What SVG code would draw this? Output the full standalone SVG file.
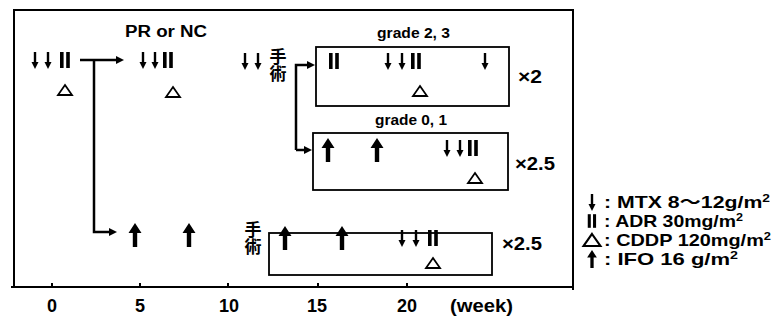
<svg xmlns="http://www.w3.org/2000/svg" xmlns:xlink="http://www.w3.org/1999/xlink" width="776" height="320" viewBox="0 0 776 320">
<style>
.t{font-family:"Liberation Sans","Noto Sans CJK JP",Arial,sans-serif;font-weight:bold;fill:#000}
.j{font-family:"Noto Sans CJK JP","Noto Sans CJK SC",sans-serif;font-weight:bold;fill:#000;font-size:17px;writing-mode:vertical-rl}
.box{fill:none;stroke:#000;stroke-width:1.8}
.ln{fill:none;stroke:#000;stroke-width:2.5}
.ax{fill:none;stroke:#000;stroke-width:2}
</style>
<defs>
<marker id="ah" viewBox="0 0 10 10" refX="5" refY="5" markerWidth="8" markerHeight="8" markerUnits="userSpaceOnUse" orient="auto"><path d="M0,0 L10,5 L0,10 Z" fill="#000"/></marker>
<g id="mtx"><line x1="0" y1="-8" x2="0" y2="3" stroke="#000" stroke-width="2.4"/><path d="M-3.5,2 L3.5,2 L0,9 Z" fill="#000"/></g>
<g id="adr" fill="#000"><rect x="-5" y="-8" width="3.6" height="16"/><rect x="1.2" y="-8" width="3.6" height="16"/></g>
<path id="cddp" d="M0,-5 L7,5 L-7,5 Z" fill="none" stroke="#000" stroke-width="1.8"/>
<path id="ifo" d="M0,-12 L6.5,-2 L2.2,-2 L2.2,12 L-2.2,12 L-2.2,-2 L-6.5,-2 Z" fill="#000"/>
</defs>

<g id="frame">
<path class="ax" d="M14,287 V10 H573 V290"/>
<line class="ax" x1="11" y1="287" x2="573" y2="287"/>
<path class="ax" d="M52,283 V287 M140,283 V287 M228,283 V287 M318,283 V287 M407,283 V287"/>
<text class="t" x="52" y="312" font-size="18" text-anchor="middle">0</text>
<text class="t" x="140" y="312" font-size="18" text-anchor="middle">5</text>
<text class="t" x="229" y="312" font-size="18" text-anchor="middle">10</text>
<text class="t" x="317" y="312" font-size="18" text-anchor="middle">15</text>
<text class="t" x="407" y="312" font-size="18" text-anchor="middle">20</text>
<text class="t" x="450" y="312" font-size="18" textLength="63" lengthAdjust="spacingAndGlyphs">(week)</text>
</g>

<g id="connectors">
<line class="ln" x1="80" y1="60" x2="120" y2="60" marker-end="url(#ah)"/>
<path class="ln" d="M94,60 V232 H113" marker-end="url(#ah)"/>
<path class="ln" d="M296,150 V65 H311" marker-end="url(#ah)"/>
<path class="ln" d="M296,150 H308" marker-end="url(#ah)"/>
</g>

<g id="start">
<use href="#mtx" x="35" y="60"/>
<use href="#mtx" x="48" y="60"/>
<use href="#adr" x="65" y="60"/>
<use href="#cddp" x="65" y="90"/>
</g>

<g id="pr-nc">
<text class="t" x="125" y="37" font-size="16" textLength="82" lengthAdjust="spacingAndGlyphs">PR or NC</text>
<use href="#mtx" x="143" y="60"/>
<use href="#mtx" x="155" y="60"/>
<use href="#adr" x="168" y="60"/>
<use href="#cddp" x="173" y="92"/>
</g>

<g id="surgery1">
<use href="#mtx" x="245" y="61"/>
<use href="#mtx" x="258" y="61"/>
<text class="j" x="278" y="48">手術</text>
</g>

<g id="grade23">
<text class="t" x="377" y="38" font-size="14" textLength="73" lengthAdjust="spacingAndGlyphs">grade 2, 3</text>
<rect class="box" x="316" y="47" width="193" height="59"/>
<use href="#adr" x="334" y="61"/>
<use href="#mtx" x="388" y="61"/>
<use href="#mtx" x="402" y="61"/>
<use href="#adr" x="416" y="61"/>
<use href="#mtx" x="485" y="61"/>
<use href="#cddp" x="420" y="91"/>
<text class="t" x="518" y="83" font-size="18" textLength="24" lengthAdjust="spacingAndGlyphs">×2</text>
</g>

<g id="grade01">
<text class="t" x="375" y="125" font-size="14" textLength="72" lengthAdjust="spacingAndGlyphs">grade 0, 1</text>
<rect class="box" x="313" y="133" width="195" height="57"/>
<use href="#ifo" x="328" y="150"/>
<use href="#ifo" x="377" y="150"/>
<use href="#mtx" x="447" y="148"/>
<use href="#mtx" x="460" y="148"/>
<use href="#adr" x="473" y="148"/>
<use href="#cddp" x="475" y="178"/>
<text class="t" x="515" y="170" font-size="18" textLength="40" lengthAdjust="spacingAndGlyphs">×2.5</text>
</g>

<g id="ifo-arm">
<use href="#ifo" x="135" y="235"/>
<use href="#ifo" x="189" y="235"/>
</g>

<g id="surgery2">
<text class="j" x="253" y="221">手術</text>
<rect class="box" x="269" y="233" width="223" height="42"/>
<use href="#ifo" x="285" y="238"/>
<use href="#ifo" x="342" y="238"/>
<use href="#mtx" x="402" y="238"/>
<use href="#mtx" x="416" y="238"/>
<use href="#adr" x="433" y="238"/>
<use href="#cddp" x="433" y="263"/>
<text class="t" x="502" y="250" font-size="18" textLength="40" lengthAdjust="spacingAndGlyphs">×2.5</text>
</g>

<g id="legend">
<use href="#mtx" x="592" y="202"/>
<text class="t" x="604" y="208" font-size="17" textLength="166" lengthAdjust="spacingAndGlyphs">: MTX 8～12g/m<tspan dy="-6" font-size="11">2</tspan></text>
<g transform="translate(592,221) scale(0.85)"><use href="#adr"/></g>
<text class="t" x="604" y="227" font-size="17" textLength="139" lengthAdjust="spacingAndGlyphs">: ADR 30mg/m<tspan dy="-6" font-size="11">2</tspan></text>
<g transform="translate(592,240) scale(1.2)"><use href="#cddp"/></g>
<text class="t" x="604" y="246" font-size="17" textLength="167" lengthAdjust="spacingAndGlyphs">: CDDP 120mg/m<tspan dy="-6" font-size="11">2</tspan></text>
<g transform="translate(592,259) scale(0.75)"><use href="#ifo"/></g>
<text class="t" x="604" y="265" font-size="17" textLength="134" lengthAdjust="spacingAndGlyphs">: IFO 16 g/m<tspan dy="-6" font-size="11">2</tspan></text>
</g>
</svg>
